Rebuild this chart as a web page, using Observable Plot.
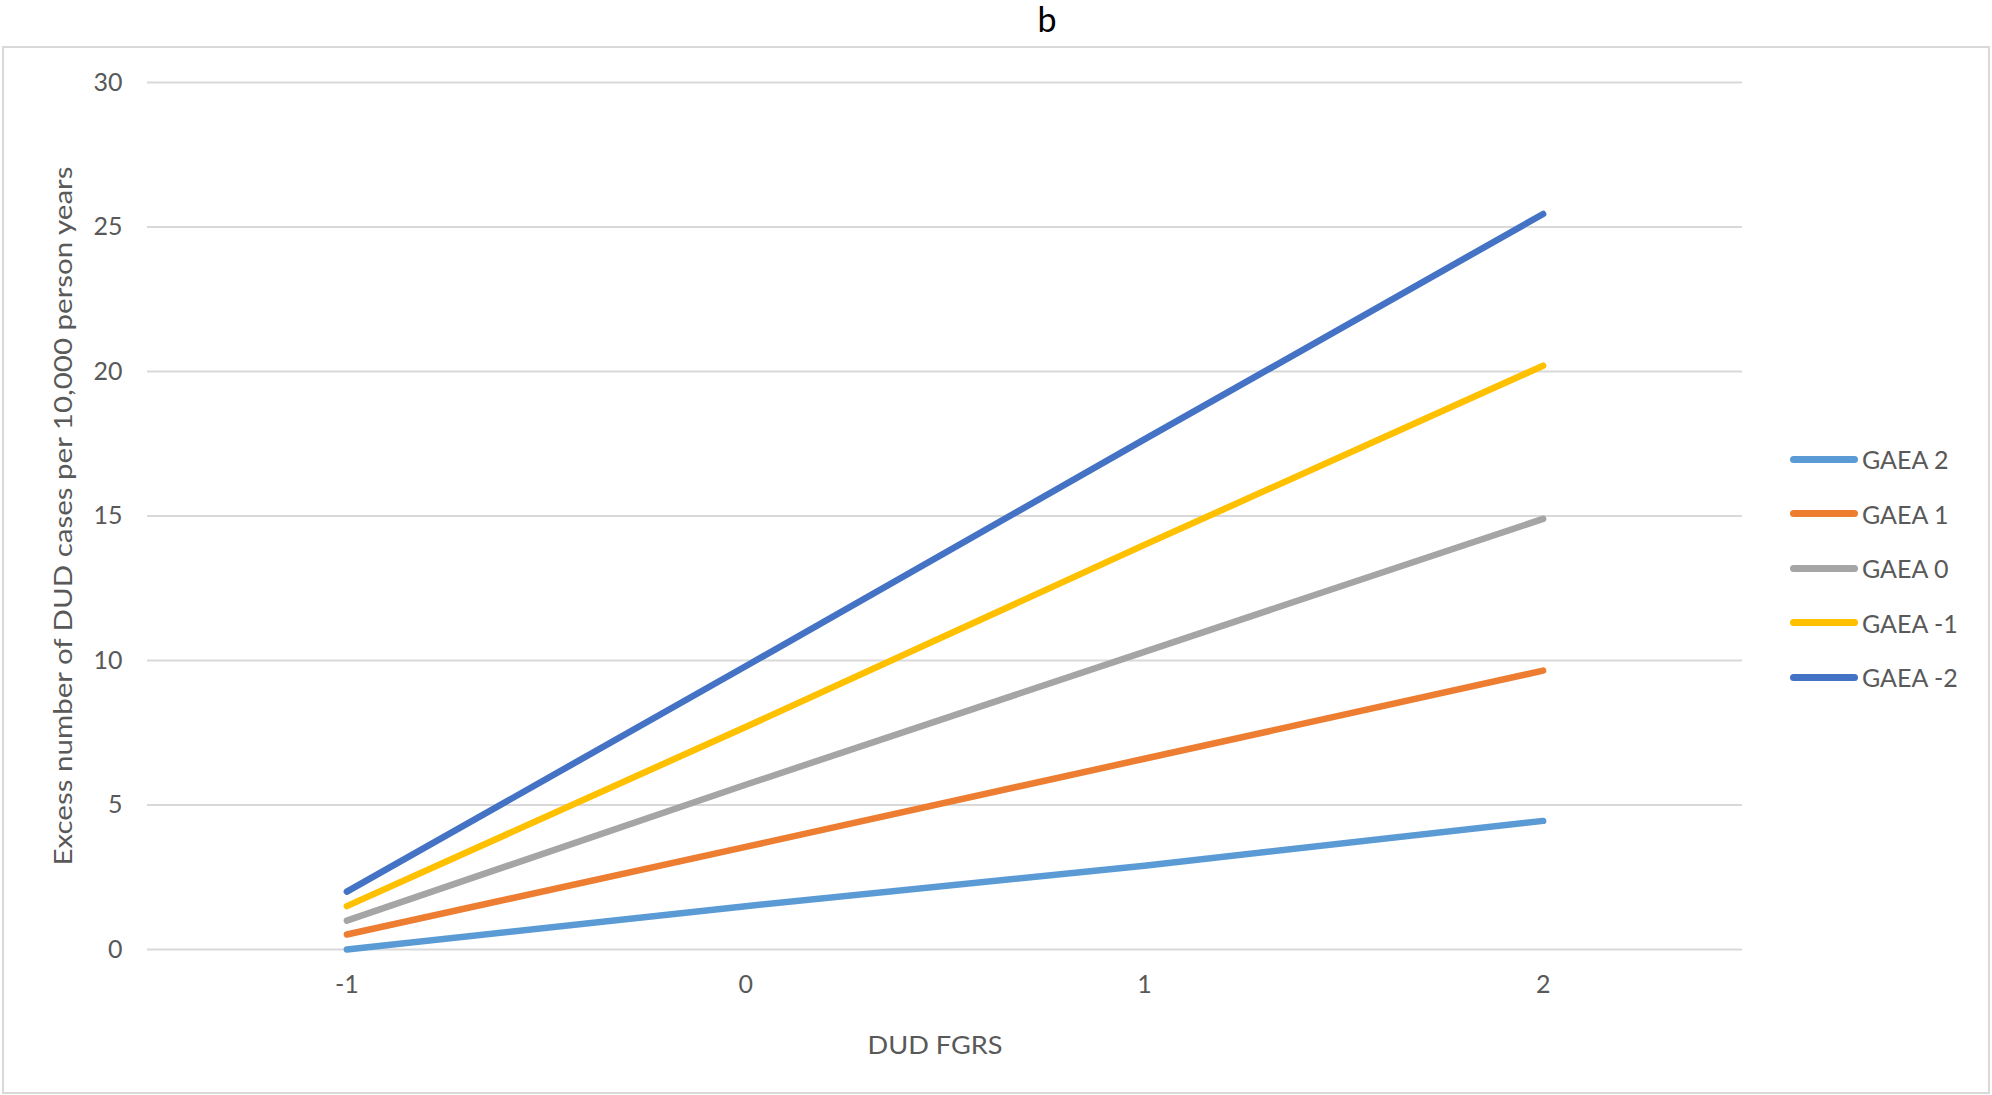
<!DOCTYPE html>
<html>
<head>
<meta charset="utf-8">
<script src="https://cdn.jsdelivr.net/npm/d3@7"></script>
<script src="https://cdn.jsdelivr.net/npm/@observablehq/plot@0.6"></script>
<style>
  html, body { margin: 0; padding: 0; background: #fff; }
  body { width: 1992px; height: 1095px; position: relative; overflow: hidden; font-family: Lato, "Open Sans", sans-serif; }
  #title { position: absolute; left: 0; width: 2094px; top: 1px; text-align: center; font-size: 34px; line-height: 36px; color: #000; }
  #frame { position: absolute; left: 2px; top: 46px; width: 1988px; height: 1048px; border: 2px solid #d9d9d9; box-sizing: border-box; }
  #chart { position: absolute; left: 0; top: 47px; }
  #legend { position: absolute; left: 1790px; top: 432px; color: #595959; font-size: 25px; }
  .item { display: flex; align-items: center; height: 54.5px; }
  .sw { width: 68px; height: 7px; border-radius: 4px; margin-right: 4px; }
</style>
</head>
<body>
<div id="title">b</div>
<div id="frame"></div>
<div id="chart"></div>
<div id="legend"></div>
<script>
const xValues = [-1, 0, 1, 2];
const seriesNames = ["GAEA 2", "GAEA 1", "GAEA 0", "GAEA -1", "GAEA -2"];
const seriesColors = ["#5B9BD5", "#ED7D31", "#A5A5A5", "#FFC000", "#4472C4"];
const gaea2  = [0.0, 1.5, 2.9, 4.45];
const gaea1  = [0.52, 3.55, 6.6, 9.65];
const gaea0  = [1.0, 5.7, 10.3, 14.9];
const gaeaM1 = [1.5, 7.7, 14.0, 20.2];
const gaeaM2 = [2.0, 9.8, 17.65, 25.45];
const yTicks = [0, 5, 10, 15, 20, 25, 30];
const xLabel = "DUD FGRS";
const yLabel = "Excess number of DUD cases per 10,000 person years";

const seriesValues = [gaea2, gaea1, gaea0, gaeaM1, gaeaM2];
const data = [];
seriesNames.forEach((name, i) => {
  xValues.forEach((x, j) => data.push({series: name, x, y: seriesValues[i][j]}));
});
const fmt = d => d < 0 ? "-" + Math.abs(d) : String(d);
const plot = Plot.plot({
  width: 1992,
  height: 1048,
  marginLeft: 147,
  marginRight: 250,
  marginTop: 35,
  marginBottom: 146,
  style: {fontFamily: "Lato, 'Open Sans', sans-serif", fontSize: "25px", color: "#595959", background: "transparent"},
  x: {domain: [-1.5, 2.5], ticks: xValues, tickFormat: fmt},
  y: {domain: [0, 30], ticks: yTicks},
  color: {domain: seriesNames, range: seriesColors},
  marks: [
    Plot.gridY(yTicks, {stroke: "#d9d9d9", strokeOpacity: 1, strokeWidth: 2}),
    Plot.axisY(yTicks, {tickSize: 0, tickPadding: 25, label: null, fill: "#595959", fontSize: 25}),
    Plot.axisX(xValues, {tickSize: 0, tickPadding: 26, label: null, fill: "#595959", fontSize: 25, tickFormat: fmt}),
    Plot.line(data, {x: "x", y: "y", z: "series", stroke: "series", strokeWidth: 6.5, strokeLinecap: "round", strokeLinejoin: "round"}),
    Plot.text([yLabel], {text: d => d, frameAnchor: "left", dx: -84, rotate: -90, textAnchor: "middle", lineAnchor: "middle", fill: "#595959", fontSize: 25}),
    Plot.text([xLabel], {text: d => d, frameAnchor: "bottom", dy: 96, dx: -10, textAnchor: "middle", lineAnchor: "middle", fill: "#595959", fontSize: 25})
  ]
});
// stretch axis titles to the reference's text extents
d3.select(plot).selectAll("text").each(function() {
  const t = this.textContent;
  if (t === yLabel) d3.select(this).attr("textLength", 699).attr("lengthAdjust", "spacingAndGlyphs");
  if (t === xLabel) d3.select(this).attr("textLength", 135).attr("lengthAdjust", "spacingAndGlyphs");
});
document.getElementById("chart").appendChild(plot);

const legend = document.getElementById("legend");
seriesNames.forEach((name, i) => {
  const item = document.createElement("div");
  item.className = "item";
  const sw = document.createElement("div");
  sw.className = "sw";
  sw.style.background = seriesColors[i];
  const t = document.createElement("span");
  t.textContent = name;
  item.appendChild(sw);
  item.appendChild(t);
  legend.appendChild(item);
});
</script>
</body>
</html>
